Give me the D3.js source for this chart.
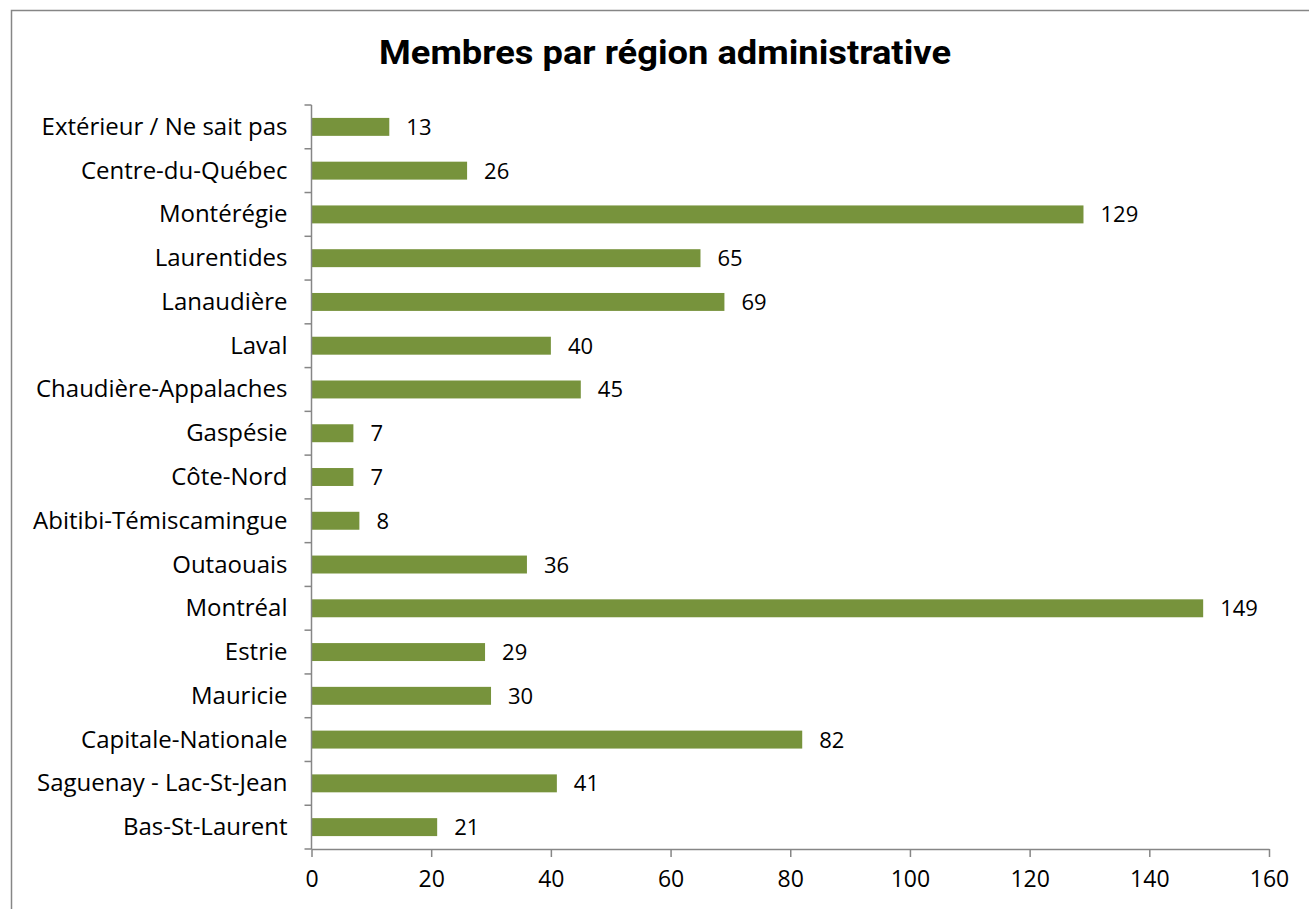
<!DOCTYPE html>
<html>
<head>
    <meta charset="utf-8">
    <title>Membres par région administrative</title>
    <script src="https://cdn.jsdelivr.net/npm/d3@7"></script>
    <style>
        body { margin: 0; background: #fff; }
    </style>
</head>
<body>
    <svg width="1309" height="909" id="mainsvg"></svg>
    <script>
        // données (de haut en bas)
        const regions = ['Extérieur / Ne sait pas', 'Centre-du-Québec', 'Montérégie', 'Laurentides',
            'Lanaudière', 'Laval', 'Chaudière-Appalaches', 'Gaspésie', 'Côte-Nord',
            'Abitibi-Témiscamingue', 'Outaouais', 'Montréal', 'Estrie', 'Mauricie',
            'Capitale-Nationale', 'Saguenay - Lac-St-Jean', 'Bas-St-Laurent'];
        const membres = [13, 26, 129, 65, 69, 40, 45, 7, 7, 8, 36, 149, 29, 30, 82, 41, 21];
        const xTicks = [0, 20, 40, 60, 80, 100, 120, 140, 160];

        const svg = d3.select('#mainsvg');
        const width = +svg.attr('width');
        const height = +svg.attr('height');
        const margin = { top: 105, left: 311.5, right: 40, bottom: 60 };
        const innerWidth = 1269 - margin.left;
        const innerHeight = 849 - margin.top;
        const axisColor = '#868686';
        const labelFont = '"Open Sans", "Liberation Sans", sans-serif';
        const tickFont = '"Open Sans", "Liberation Sans", sans-serif';

        // cadre (bords droit et bas hors de l'image)
        svg.append('path')
            .attr('d', `M11.5,${height} V10.5 H${width}`)
            .attr('fill', 'none').attr('stroke', axisColor).attr('stroke-width', 1.5);

        // titre
        svg.append('text')
            .text('Membres par région administrative')
            .attr('x', 665).attr('y', 64)
            .attr('text-anchor', 'middle')
            .attr('font-family', 'Roboto, "Liberation Sans", sans-serif')
            .attr('font-weight', 'bold')
            .attr('font-size', '34px')
            .attr('textLength', 572)
            .attr('lengthAdjust', 'spacingAndGlyphs')
            .attr('fill', '#000');

        const g = svg.append('g')
            .attr('transform', `translate(${margin.left}, ${margin.top})`);

        const xScale = d3.scaleLinear().domain([0, 160]).range([0, innerWidth]);
        const yScale = d3.scaleBand().domain(regions).range([0, innerHeight]).paddingInner(0.59).paddingOuter(0.295);

        // barres
        g.selectAll('.bar').data(regions).join('rect')
            .attr('class', 'bar')
            .attr('x', 0)
            .attr('y', d => yScale(d))
            .attr('width', (d, i) => xScale(membres[i]))
            .attr('height', yScale.bandwidth())
            .attr('fill', '#77933C');

        // étiquettes de valeur
        g.selectAll('.val').data(regions).join('text')
            .attr('class', 'val')
            .attr('x', (d, i) => xScale(membres[i]) + 17)
            .attr('y', d => yScale(d) + yScale.bandwidth() / 2 + 8)
            .attr('font-family', labelFont)
            .attr('font-size', '22px')
            .attr('fill', '#000')
            .text((d, i) => membres[i]);

        // axe y (graduations aux limites des catégories)
        const step = innerHeight / regions.length;
        const yAxisG = g.append('g');
        yAxisG.append('line')
            .attr('x1', 0).attr('x2', 0).attr('y1', 0).attr('y2', innerHeight)
            .attr('stroke', axisColor).attr('stroke-width', 1.5);
        yAxisG.selectAll('.ytick').data(d3.range(regions.length + 1)).join('line')
            .attr('x1', -7).attr('x2', 0)
            .attr('y1', i => i * step).attr('y2', i => i * step)
            .attr('stroke', axisColor).attr('stroke-width', 1.5);
        yAxisG.selectAll('.ylab').data(regions).join('text')
            .attr('x', -24)
            .attr('y', d => yScale(d) + yScale.bandwidth() / 2 + 8)
            .attr('text-anchor', 'end')
            .attr('font-family', labelFont)
            .attr('font-size', '24px')
            .attr('fill', '#000')
            .text(d => d);

        // axe x
        const xAxis = d3.axisBottom(xScale).tickValues(xTicks).tickSize(8).tickPadding(14).tickSizeOuter(0);
        const xAxisG = g.append('g')
            .attr('transform', `translate(0, ${innerHeight})`)
            .call(xAxis);
        xAxisG.select('.domain').attr('stroke', axisColor).attr('stroke-width', 1.5);
        xAxisG.selectAll('.tick line').attr('stroke', axisColor).attr('stroke-width', 1.5);
        xAxisG.selectAll('.tick text')
            .attr('font-family', tickFont)
            .attr('font-size', '23px')
            .attr('fill', '#000');
    </script>
</body>
</html>
